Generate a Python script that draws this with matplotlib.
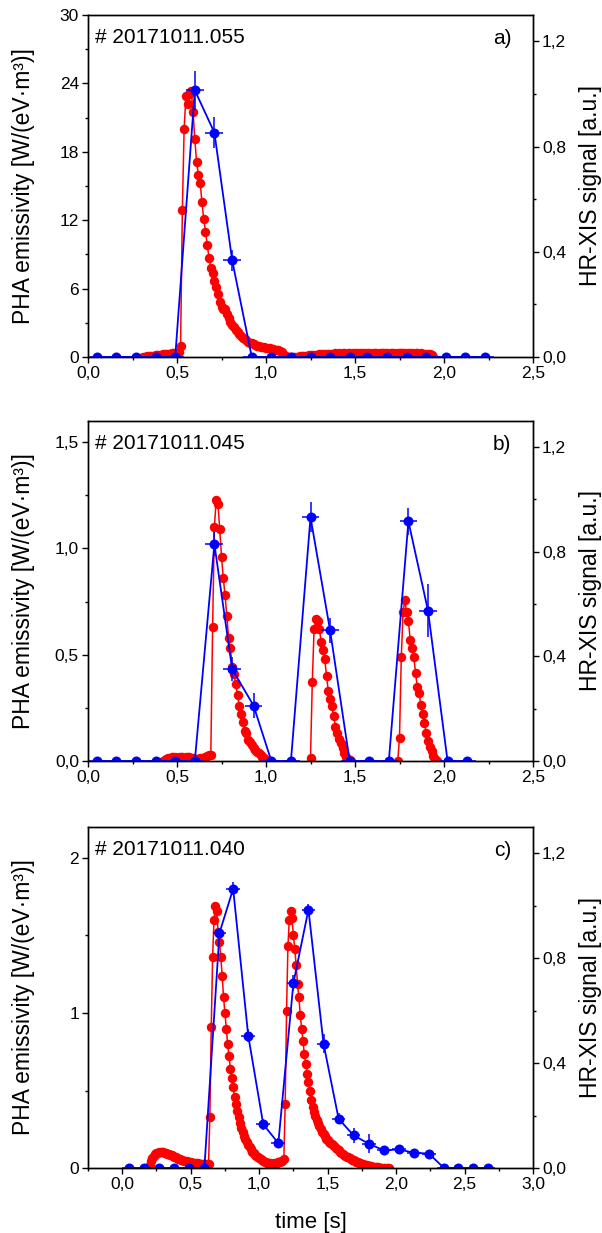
import numpy as np
import matplotlib
matplotlib.use("Agg")
import matplotlib.pyplot as plt
from matplotlib.ticker import MultipleLocator, FuncFormatter

plt.rcParams["font.family"] = ["Liberation Sans", "DejaVu Sans"]

DT = 0.01  # PHA sampling step [s]

# ---- shot 20171011.055 -------------------------------------------------
pha_a_t0 = 0.31
pha_a = [0.0, 0.03, 0.05, 0.06, 0.09, 0.1, 0.12, 0.15, 0.16, 0.18, 0.21,
         0.22, 0.24, 0.27, 0.28, 0.3, 0.33, 0.34, 0.36, 0.38, 0.41,
         0.95, 12.9, 20.0, 22.9, 22.2, 23.1, 23.3, 21.5, 19.1, 17.1, 16.0,
         15.3, 13.6, 12.1, 11.0, 9.8, 8.7, 7.8, 7.4, 6.7, 6.1, 5.5, 4.8,
         4.4, 4.2, 4.2, 3.8, 3.4, 3.1, 2.8, 2.6, 2.4, 2.2, 2.0, 1.85, 1.7,
         1.55, 1.45, 1.35, 1.25, 1.2, 1.1, 1.05, 1.0, 0.95, 0.9, 0.88, 0.85,
         0.8, 0.78, 0.75, 0.72, 0.68, 0.65, 0.62, 0.6, 0.55, 0.4, 0.15, 0.05,
         0.0, 0.0, 0.0, 0.0, 0.0, 0.0,
         0.02, 0.04, 0.06, 0.08, 0.1, 0.12, 0.14, 0.16, 0.17, 0.18, 0.2,
         0.21, 0.22, 0.23, 0.24, 0.25, 0.26, 0.27, 0.28, 0.28,
         0.3, 0.31, 0.29, 0.32, 0.3, 0.31, 0.33, 0.3, 0.32, 0.31, 0.3, 0.32,
         0.33, 0.31, 0.3, 0.32, 0.34, 0.31, 0.3, 0.33, 0.32, 0.3, 0.31, 0.33,
         0.32, 0.3, 0.31, 0.32, 0.34, 0.33, 0.31, 0.3, 0.32, 0.33, 0.31, 0.3,
         0.32, 0.31, 0.33, 0.34, 0.32, 0.3, 0.31, 0.33, 0.32, 0.3, 0.31, 0.32,
         0.3, 0.31, 0.29, 0.3, 0.28, 0.27, 0.25, 0.2, 0.0]

xis_a_t = [0.05, 0.16, 0.27, 0.38, 0.49, 0.60, 0.71, 0.81, 0.92, 1.03, 1.14,
           1.25, 1.36, 1.47, 1.57, 1.68, 1.79, 1.90, 2.01, 2.12, 2.23]
xis_a = [0, 0, 0, 0, 0, 1.014, 0.853, 0.367, 0, 0, 0,
         0, 0, 0, 0, 0, 0, 0, 0, 0, 0]
xis_a_err = [0, 0, 0, 0, 0, 0.075, 0.059, 0.04, 0, 0, 0,
             0, 0, 0, 0, 0, 0, 0, 0, 0, 0]

# ---- shot 20171011.045 (three separate PHA bursts) ---------------------
pha_b_t0 = [0.42, 1.25, 1.74]
pha_b = [
    [0.0, 0.006, 0.01, 0.012, 0.015, 0.018, 0.02, 0.018, 0.015, 0.017, 0.02,
     0.019, 0.016, 0.018, 0.02, 0.017, 0.014, 0.012, 0.01, 0.01, 0.011,
     0.012, 0.014, 0.016, 0.018, 0.022, 0.026, 0.03,
     0.63, 1.10, 1.23, 1.21, 1.09, 0.96, 0.86, 0.78, 0.68, 0.58, 0.53, 0.44,
     0.41, 0.36, 0.31, 0.26, 0.22, 0.185, 0.14, 0.13, 0.10, 0.09, 0.075,
     0.06, 0.05, 0.044, 0.036, 0.03, 0.02, 0.012, 0.006, 0.002, 0.0],
    [0.016, 0.37, 0.62, 0.67, 0.66, 0.62, 0.56, 0.52, 0.48, 0.40, 0.33, 0.29,
     0.26, 0.21, 0.16, 0.13, 0.105, 0.083, 0.06, 0.036, 0.02, 0.01, 0.004,
     0.0],
    [0.0, 0.11, 0.49, 0.70, 0.756, 0.70, 0.66, 0.57, 0.53, 0.49, 0.415,
     0.346, 0.32, 0.263, 0.22, 0.177, 0.133, 0.095, 0.067, 0.045, 0.025,
     0.01, 0.0],
]

xis_b_t = [0.05, 0.16, 0.27, 0.38, 0.49, 0.60, 0.71, 0.81, 0.93, 1.03, 1.14,
           1.25, 1.36, 1.47, 1.58, 1.69, 1.80, 1.91, 2.02, 2.13]
xis_b = [0, 0, 0, 0, 0, 0, 0.829, 0.351, 0.212, 0, 0,
         0.932, 0.499, 0, 0, 0, 0.916, 0.575, 0, 0]
xis_b_err = [0, 0, 0, 0, 0, 0, 0.045, 0.047, 0.047, 0, 0,
             0.057, 0.048, 0, 0, 0, 0.051, 0.1, 0, 0]

# ---- shot 20171011.040 -------------------------------------------------
pha_c_t0 = 0.19
pha_c = [0.0, 0.02, 0.045, 0.065, 0.078, 0.088, 0.095, 0.1, 0.103, 0.105,
         0.105, 0.103, 0.1, 0.097, 0.093, 0.089, 0.085, 0.081, 0.077, 0.073,
         0.069, 0.065, 0.061, 0.057, 0.054, 0.051, 0.048, 0.045, 0.043,
         0.041, 0.039, 0.037, 0.035, 0.033, 0.032, 0.031, 0.03, 0.029, 0.028,
         0.027, 0.026, 0.025, 0.025, 0.025, 0.026,
         0.33, 0.91, 1.36, 1.60, 1.69, 1.66, 1.52, 1.46, 1.36, 1.24, 1.10,
         1.00, 0.90, 0.80, 0.72, 0.64, 0.58, 0.52, 0.46, 0.41, 0.37, 0.33,
         0.29, 0.26, 0.23, 0.205, 0.185, 0.165, 0.15, 0.135, 0.12, 0.105,
         0.095, 0.085, 0.075, 0.068, 0.062, 0.056, 0.05, 0.045, 0.04, 0.036,
         0.033, 0.031, 0.03, 0.029, 0.029, 0.03, 0.031, 0.033, 0.036, 0.04,
         0.044, 0.048, 0.055,
         0.415, 1.01, 1.43, 1.60, 1.66, 1.61, 1.50, 1.415, 1.31, 1.19, 1.10,
         0.99, 0.90, 0.82, 0.733, 0.673, 0.609, 0.555, 0.497, 0.437, 0.394,
         0.36, 0.335, 0.31, 0.29, 0.27, 0.25, 0.235, 0.22, 0.205, 0.19, 0.18,
         0.17, 0.16, 0.155, 0.15, 0.14, 0.13, 0.122, 0.114, 0.106, 0.098,
         0.091, 0.085, 0.079, 0.074, 0.069, 0.064, 0.059, 0.054, 0.05, 0.046,
         0.042, 0.038, 0.034, 0.031, 0.028, 0.025, 0.022, 0.02, 0.017, 0.015,
         0.013, 0.011, 0.009, 0.008, 0.006, 0.005, 0.004, 0.003, 0.002,
         0.001, 0.0, 0.0, 0.0, 0.0, 0.0]

xis_c_t = [0.05, 0.16, 0.27, 0.38, 0.49, 0.60, 0.71, 0.81, 0.92, 1.03, 1.14,
           1.25, 1.36, 1.47, 1.58, 1.69, 1.80, 1.91, 2.02, 2.13, 2.24, 2.35,
           2.45, 2.56, 2.67]
xis_c = [0, 0, 0, 0, 0, 0, 0.896, 1.064, 0.505, 0.166, 0.095,
         0.705, 0.985, 0.474, 0.188, 0.124, 0.093, 0.067, 0.071, 0.058, 0.055,
         0, 0, 0, 0]
xis_c_err = [0, 0, 0, 0, 0, 0, 0.02, 0.025, 0.025, 0.02, 0.02,
             0.03, 0.022, 0.035, 0.02, 0.03, 0.035, 0.015, 0.015, 0.015, 0.015,
             0, 0, 0, 0]
XIS_TERR = 0.05

shots = ["# 20171011.055", "# 20171011.045", "# 20171011.040"]
letters = ["a)", "b)", "c)"]


def comma_fmt(nd):
    return FuncFormatter(lambda v, pos: f"{v:.{nd}f}".replace(".", ","))


def pha_time(t0, vals):
    return t0 + DT * np.arange(len(vals))


fig = plt.figure(figsize=(6.02, 12.33), dpi=100)
boxes = [[0.1462, 0.7105, 0.7392, 0.2773],
         [0.1462, 0.3828, 0.7392, 0.2758],
         [0.1462, 0.0527, 0.7392, 0.2766]]

pha_sets = [[(pha_a_t0, pha_a)],
            list(zip(pha_b_t0, pha_b)),
            [(pha_c_t0, pha_c)]]
xis_sets = [(xis_a_t, xis_a, xis_a_err),
            (xis_b_t, xis_b, xis_b_err),
            (xis_c_t, xis_c, xis_c_err)]
ylims = [30, 1.6, 2.2]
ymajor = [6, 0.5, 1]
yminor = [3, 0.25, 0.5]
ydec = [0, 1, 0]
xlims = [(0, 2.5), (0, 2.5), (-0.25, 3.0)]

for i in range(3):
    ax = fig.add_axes(boxes[i])
    ax2 = ax.twinx()

    for t0, vals in pha_sets[i]:
        ax.plot(pha_time(t0, vals), vals, "-o", color="red", lw=1.1,
                ms=6.8, mec="red", mew=0)

    t, v, err = xis_sets[i]
    ax2.errorbar(t, v, yerr=err, xerr=XIS_TERR, fmt="-o", color="blue",
                 lw=1.3, ms=7.2, mew=0, elinewidth=1.1, capsize=2.5,
                 capthick=1.1)

    ax.set_xlim(*xlims[i])
    ax.set_ylim(0, ylims[i])
    ax2.set_ylim(0, 1.3)

    ax.xaxis.set_major_locator(MultipleLocator(0.5))
    ax.xaxis.set_minor_locator(MultipleLocator(0.25))
    ax.xaxis.set_major_formatter(comma_fmt(1))
    ax.yaxis.set_major_locator(MultipleLocator(ymajor[i]))
    ax.yaxis.set_minor_locator(MultipleLocator(yminor[i]))
    ax.yaxis.set_major_formatter(comma_fmt(ydec[i]))
    ax2.yaxis.set_major_locator(MultipleLocator(0.4))
    ax2.yaxis.set_minor_locator(MultipleLocator(0.2))
    ax2.yaxis.set_major_formatter(comma_fmt(1))

    for a in (ax, ax2):
        a.tick_params(which="major", direction="out", length=4, width=1.0,
                      labelsize=12.5, pad=2.5)
        a.tick_params(which="minor", direction="out", length=2.5, width=1.0)
        for s in a.spines.values():
            s.set_linewidth(1.0)

    ax.set_ylabel("PHA emissivity [W/(eV·m³)]", fontsize=16.5)
    ax.yaxis.set_label_coords(-0.119, 0.5)
    ax2.set_ylabel("HR-XIS signal [a.u.]", fontsize=16.5)
    ax2.yaxis.set_label_coords(1.104, 0.5)

    ax.text(0.016, 0.933, shots[i], transform=ax.transAxes, fontsize=15,
            ha="left", va="center")
    ax.text(0.951, 0.93, letters[i], transform=ax.transAxes, fontsize=15,
            ha="right", va="center")

    if i == 2:
        ax.set_xlabel("time [s]", fontsize=16)
        ax.xaxis.set_label_coords(0.5, -0.128)

fig.savefig("out.png", dpi=100)
